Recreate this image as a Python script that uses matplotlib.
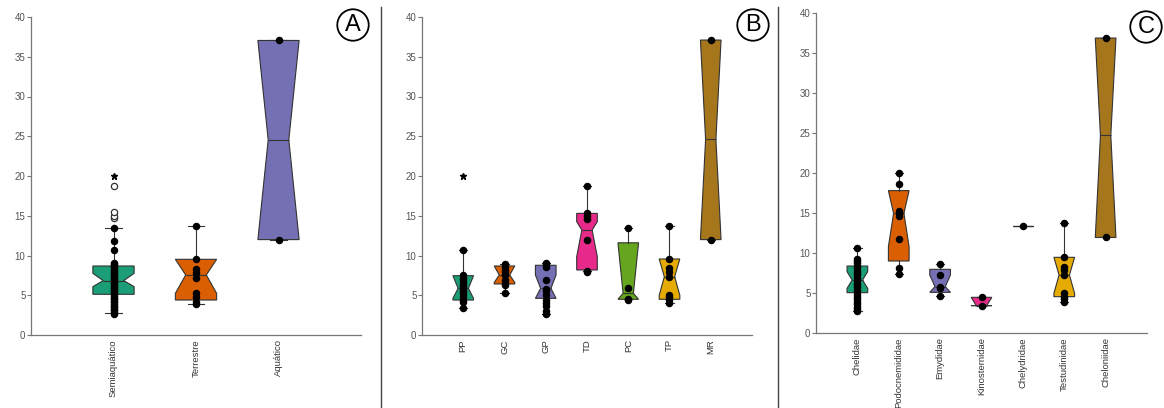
import matplotlib
matplotlib.use('Agg')
import matplotlib.pyplot as plt
from matplotlib.lines import Line2D

plt.rcParams['font.family'] = ['Liberation Sans', 'DejaVu Sans']

DARK2 = ['#1b9e77', '#d95f02', '#7570b3', '#e7298a', '#66a61e', '#e6ab02', '#a6761d']

# Panel A - habitat
A_LABELS = ['Semiaquático', 'Terrestre', 'Aquático']
A_COLORS = [DARK2[0], DARK2[1], DARK2[2]]
A_Q1 = [5.12, 4.4, 12.0]
A_MED = [6.84, 7.55, 24.55]
A_Q3 = [8.68, 9.52, 37.05]
A_LO = [2.72, 3.9, 12.0]
A_HI = [13.42, 13.71, 37.05]
A_CILO = [6.08, 5.24, 12.0]
A_CIHI = [7.76, 9.52, 37.05]
A_POINTS = [
    [2.7, 2.9, 3.1, 3.3, 3.5, 3.7, 3.9, 4.1, 4.3, 4.5, 4.7, 4.9, 5.1, 5.3, 5.5, 5.7,
     5.9, 6.1, 6.3, 6.5, 6.7, 6.9, 7.1, 7.3, 7.5, 7.7, 7.9, 8.1, 8.3, 8.5, 8.7, 8.9,
     9.1, 10.7, 11.87, 13.42],
    [3.9, 4.19, 4.82, 5.24, 7.13, 7.84, 8.26, 9.52, 13.71],
    [12.0, 37.05],
]
A_FLIERS = [[14.67, 15.0, 15.43, 18.74], [], []]
A_EXTREME = [[20.04], [], []]

# Panel B - groups
B_LABELS = ['PP', 'GC', 'GP', 'TD', 'PC', 'TP', 'MR']
B_COLORS = DARK2
B_Q1 = [4.4, 6.42, 4.61, 8.18, 4.49, 4.49, 12.0]
B_MED = [5.87, 7.55, 5.87, 13.2, 5.24, 7.34, 24.6]
B_Q3 = [7.46, 8.68, 8.77, 15.3, 11.6, 9.56, 37.1]
B_LO = [3.36, 5.3, 2.65, 8.0, 4.49, 4.0, 12.0]
B_HI = [10.64, 8.96, 9.08, 18.8, 13.5, 13.75, 37.1]
B_CILO = [4.6, 6.6, 4.61, 9.85, 4.49, 5.0, 12.0]
B_CIHI = [7.46, 8.68, 7.55, 14.26, 11.6, 9.56, 37.1]
B_POINTS = [
    [3.4, 4.2, 4.4, 4.8, 5.1, 5.4, 5.7, 6.0, 6.3, 6.6, 6.9, 7.2, 7.5, 10.7],
    [5.3, 6.3, 6.6, 6.9, 7.5, 7.9, 8.2, 8.6, 8.9],
    [2.7, 3.0, 3.6, 4.0, 4.4, 5.0, 5.5, 5.8, 6.9, 8.6, 8.8, 9.0],
    [7.9, 8.1, 11.9, 14.6, 15.0, 15.3, 18.8],
    [4.4, 4.57, 5.95, 13.5],
    [4.0, 4.4, 4.74, 5.0, 7.34, 7.97, 8.39, 9.6, 13.75],
    [12.0, 37.1],
]
B_FLIERS = [[], [], [], [], [], [], []]
B_EXTREME = [[20.0], [], [], [], [], [], []]

# Panel C - families
C_LABELS = ['Chelidae', 'Podocnemididae', 'Emydidae', 'Kinosternidae',
            'Chelydridae', 'Testudinidae', 'Cheloniidae']
C_COLORS = DARK2
C_Q1 = [5.04, 9.0, 5.08, 3.42, 13.42, 4.54, 11.94]
C_MED = [6.62, 14.96, 5.8, 3.42, 13.42, 7.25, 24.7]
C_Q3 = [8.37, 17.8, 7.96, 4.46, 13.42, 9.46, 36.87]
C_LO = [2.75, 7.37, 4.67, 3.42, 13.42, 3.85, 11.94]
C_HI = [10.67, 19.96, 8.58, 4.46, 13.42, 13.71, 36.87]
C_CILO = [5.58, 10.8, 5.08, 3.42, 13.42, 4.96, 11.94]
C_CIHI = [7.67, 17.8, 7.25, 4.46, 13.42, 9.46, 36.87]
C_POINTS = [
    [2.75, 3.0, 3.3, 3.6, 3.9, 4.2, 4.5, 4.8, 5.1, 5.4, 5.7, 6.0, 6.3, 6.6, 6.9,
     7.2, 7.5, 7.8, 8.1, 8.4, 8.7, 9.0, 9.2, 10.67],
    [7.37, 8.08, 11.75, 14.67, 14.96, 15.3, 18.6, 19.96],
    [4.67, 5.58, 5.8, 7.25, 8.58],
    [3.42, 4.46],
    [13.42],
    [3.85, 4.2, 4.54, 4.96, 7.25, 7.87, 8.29, 9.54, 13.71],
    [11.94, 36.87],
]
C_FLIERS = [[], [], [], [], [], [], []]
C_EXTREME = [[], [], [], [], [], [], []]


def draw_panel(ax, labels, colors, q1, med, q3, lo, hi, cilo, cihi, points, fliers, extreme):
    stats = []
    for i, lab in enumerate(labels):
        stats.append(dict(label=lab, q1=q1[i], med=med[i], q3=q3[i], whislo=lo[i],
                          whishi=hi[i], cilo=cilo[i], cihi=cihi[i], fliers=[]))
    pos = list(range(1, len(labels) + 1))
    bp = ax.bxp(stats, positions=pos, widths=0.5, capwidths=0.2, shownotches=True,
                patch_artist=True, showfliers=False,
                boxprops=dict(edgecolor='#333333', linewidth=0.8),
                medianprops=dict(color='#333333', linewidth=0.8),
                whiskerprops=dict(color='#333333', linewidth=0.8),
                capprops=dict(color='#333333', linewidth=0.8))
    for patch, c in zip(bp['boxes'], colors):
        patch.set_facecolor(c)
    for p, vals in zip(pos, points):
        ax.plot([p] * len(vals), vals, 'o', color='black', ms=4.4, zorder=5)
    for p, vals in zip(pos, fliers):
        ax.plot([p] * len(vals), vals, 'o', mfc='white', mec='#333333', mew=0.9, ms=4.5, zorder=5)
    for p, vals in zip(pos, extreme):
        ax.plot([p] * len(vals), vals, '*', color='black', ms=5, zorder=5)

    ax.set_xlim(0, len(labels) + 1)
    ax.set_ylim(0, 40)
    ax.set_yticks(range(0, 45, 5))
    ax.set_xticks(pos)
    ax.set_xticklabels(labels, rotation=90, fontsize=6.8, color='#333333')
    ax.tick_params(axis='x', length=0, pad=3)
    ax.tick_params(axis='y', length=3, width=0.8, color='#777777', labelsize=7,
                   labelcolor='#555555', pad=1)
    for s in ['top', 'right']:
        ax.spines[s].set_visible(False)
    for s in ['left', 'bottom']:
        ax.spines[s].set_color('#777777')
        ax.spines[s].set_linewidth(0.9)


W, H = 1164, 408
fig = plt.figure(figsize=(W / 100, H / 100), dpi=100)

ax_a = fig.add_axes([31 / W, 73 / H, 330 / W, 318 / H])
ax_b = fig.add_axes([422 / W, 73 / H, 330 / W, 318 / H])
ax_c = fig.add_axes([816 / W, 75 / H, 331 / W, 320 / H])

draw_panel(ax_a, A_LABELS, A_COLORS, A_Q1, A_MED, A_Q3, A_LO, A_HI, A_CILO, A_CIHI,
           A_POINTS, A_FLIERS, A_EXTREME)
draw_panel(ax_b, B_LABELS, B_COLORS, B_Q1, B_MED, B_Q3, B_LO, B_HI, B_CILO, B_CIHI,
           B_POINTS, B_FLIERS, B_EXTREME)
draw_panel(ax_c, C_LABELS, C_COLORS, C_Q1, C_MED, C_Q3, C_LO, C_HI, C_CILO, C_CIHI,
           C_POINTS, C_FLIERS, C_EXTREME)

# panel letters
for letter, (x, y) in zip('ABC', [(353, 25), (753, 25), (1146, 27)]):
    fig.text(x / W, 1 - y / H, letter, ha='center', va='center', fontsize=17,
             bbox=dict(boxstyle='circle,pad=0.2', fc='white', ec='black', lw=1.3))

# separators between panels
for x in [381, 778]:
    fig.add_artist(Line2D([x / W, x / W], [0, 1 - 7 / H], transform=fig.transFigure,
                          color='#444444', lw=1))

fig.savefig('out.png', dpi=100)
